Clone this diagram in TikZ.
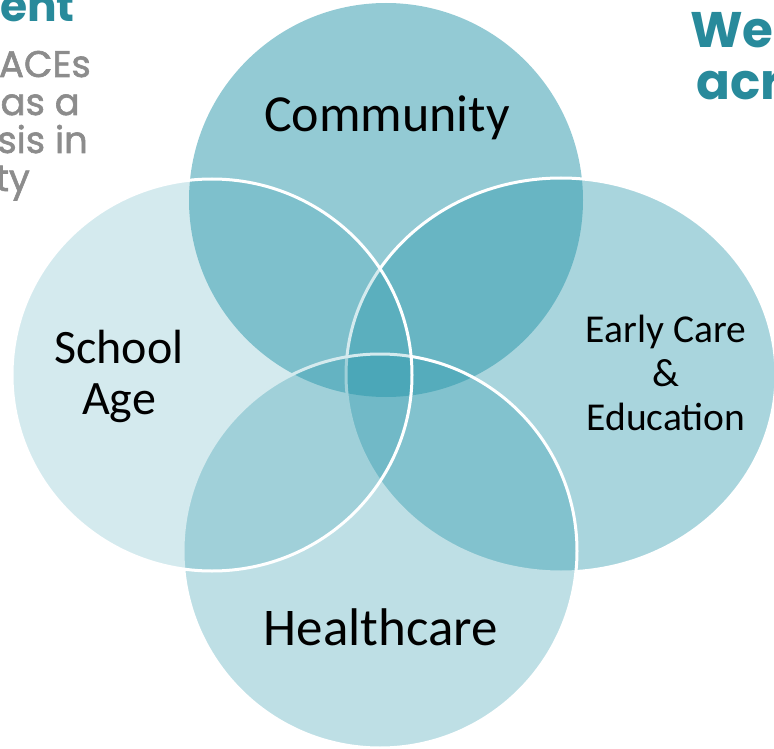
\documentclass[tikz,border=0pt]{standalone}
\usepackage{fontspec}
\setmainfont{Carlito}
\newfontfamily\slidefont{Poppins}
\newfontfamily\slidemedium[FakeBold=1.6]{Poppins}
\definecolor{venn}{RGB}{40,150,170}
\definecolor{slideteal}{RGB}{40,138,155}
\definecolor{slidegrey}{RGB}{140,140,140}
\begin{document}
\begin{tikzpicture}[x=1pt,y=-1pt,
  area/.style={fill=venn,fill opacity=#1},
  ring/.style={draw=white,line width=3pt},
  every node/.style={inner sep=0pt,align=center}]
\useasboundingbox (0,0) rectangle (774,749);
\clip (0,0) rectangle (774,749);
% cut-off slide text
\node[anchor=base west,text=slideteal,font=\slidefont\bfseries\fontsize{44}{44}\selectfont] (t1) at (0,22) {ent};
\node[anchor=base east,text=slidegrey,font=\slidemedium\fontsize{37}{37}\selectfont] (g1) at (91,77) {ACEs};
\node[anchor=base east,text=slidegrey,font=\slidemedium\fontsize{37}{37}\selectfont] (g2) at (80,115) {as a};
\node[anchor=base east,text=slidegrey,font=\slidemedium\fontsize{37}{37}\selectfont] (g3) at (88,153) {sis in};
\node[anchor=base east,text=slidegrey,font=\slidemedium\fontsize{37}{37}\selectfont] (g4) at (30,191) {ty};
\node[anchor=base west,text=slideteal,font=\slidefont\bfseries\fontsize{50}{50}\selectfont] (t2) at (690,48) {We};
\node[anchor=base west,text=slideteal,font=\slidefont\bfseries\fontsize{50}{50}\selectfont] (t3) at (696,100) {acr};
% circles
\path[area=0.5] (386,200) circle[radius=197];
\path[area=0.4,ring] (561,375) ellipse[x radius=215,y radius=197];
\path[area=0.3,ring] (380,551) circle[radius=197];
\path[area=0.2,ring] (212,375) ellipse[x radius=200,y radius=196];
% labels
\node[anchor=base,font=\fontsize{52}{52}\selectfont] (community) at (387,132) {Community};
\node[anchor=base,font=\fontsize{48}{51}\selectfont] (school) at (119,414) {School\\Age};
\node[anchor=base,font=\fontsize{39.5}{44}\selectfont] (early) at (666,430) {Early Care\\\&\\Education};
\node[anchor=base,font=\fontsize{53}{53}\selectfont] (health) at (381,645) {Healthcare};
\end{tikzpicture}
\end{document}
